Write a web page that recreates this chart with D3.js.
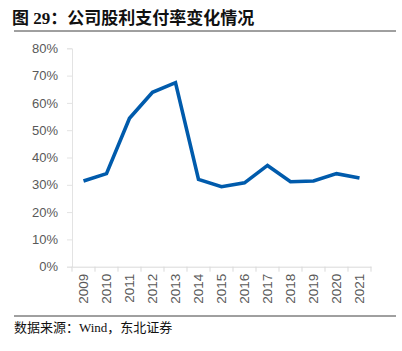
<!DOCTYPE html>
<html>
<head>
<meta charset="utf-8">
<script src="https://cdn.jsdelivr.net/npm/d3@7"></script>
<style>
  body { margin: 0; background: #fff; }
  svg { display: block; }
</style>
</head>
<body>
<div id="chart"></div>
<script>
// payout ratio by year (%)
const years = ["2009","2010","2011","2012","2013","2014","2015","2016","2017","2018","2019","2020","2021"];
const payout = [31.4, 34.1, 54.4, 63.9, 67.4, 32.0, 29.3, 30.7, 37.1, 31.1, 31.4, 34.1, 32.5];
const yTicks = [0, 10, 20, 30, 40, 50, 60, 70, 80];

const width = 402, height = 351;
const margin = {left: 72, right: 31, top: 48.3, bottom: 84.3};

const svg = d3.select("#chart").append("svg")
    .attr("width", width)
    .attr("height", height);

// title + rule
svg.append("text")
    .attr("x", 12)
    .attr("y", 24)
    .style("font-family", "'Liberation Serif','Noto Sans CJK SC',serif")
    .style("font-weight", "bold")
    .style("font-size", "17px")
    .style("fill", "#111")
    .text("图 29：公司股利支付率变化情况");

svg.append("line")
    .attr("x1", 14).attr("x2", 396)
    .attr("y1", 31).attr("y2", 31)
    .attr("stroke", "#404040")
    .attr("stroke-width", 1);

const x = d3.scaleBand()
    .domain(years)
    .range([margin.left, width - margin.right]);

const y = d3.scaleLinear()
    .domain([0, 80])
    .range([height - margin.bottom, margin.top]);

// y axis
const yAxis = svg.append("g")
    .attr("transform", `translate(${margin.left},0)`)
    .call(d3.axisLeft(y).tickValues(yTicks).tickFormat(d => d + "%").tickSize(5).tickPadding(9));
yAxis.select(".domain").attr("stroke", "#e3e3e3");
yAxis.selectAll(".tick line").attr("stroke", "#e3e3e3");
yAxis.selectAll("text")
    .style("font-family", "'Liberation Sans',Arial,sans-serif")
    .style("font-size", "13px")
    .style("fill", "#595959");

// x axis
const xAxis = svg.append("g")
    .attr("transform", `translate(0,${y(0)})`)
    .call(d3.axisBottom(x).tickSize(0).tickPadding(0));
xAxis.select(".domain").attr("stroke", "#d9d9d9");
xAxis.selectAll(".tick line").remove();
xAxis.selectAll(".tick text")
    .attr("transform", "rotate(-90)")
    .attr("x", -7)
    .attr("y", 0)
    .attr("dy", "0.35em")
    .style("text-anchor", "end")
    .style("font-family", "'Liberation Sans',Arial,sans-serif")
    .style("font-size", "13.5px")
    .style("fill", "#595959");

// category boundary ticks
const bounds = years.map(d => x(d)).concat([x.range()[1]]);
svg.append("g").selectAll("line")
    .data(bounds)
    .join("line")
    .attr("x1", d => d).attr("x2", d => d)
    .attr("y1", y(0)).attr("y2", y(0) + 5)
    .attr("stroke", "#d9d9d9");

// line
const line = d3.line()
    .x((d, i) => x(years[i]) + x.bandwidth() / 2)
    .y(d => y(d));

svg.append("path")
    .datum(payout)
    .attr("d", line)
    .attr("fill", "none")
    .attr("stroke", "#005bac")
    .attr("stroke-width", 3.6)
    .attr("stroke-linejoin", "miter");

// footer
svg.append("line")
    .attr("x1", 14).attr("x2", 396)
    .attr("y1", 316).attr("y2", 316)
    .attr("stroke", "#404040")
    .attr("stroke-width", 1);

svg.append("text")
    .attr("x", 14)
    .attr("y", 332)
    .style("font-family", "'Liberation Serif','Noto Sans CJK SC',serif")
    .style("font-size", "13px")
    .style("fill", "#111")
    .text("数据来源：Wind，东北证券");
</script>
</body>
</html>
